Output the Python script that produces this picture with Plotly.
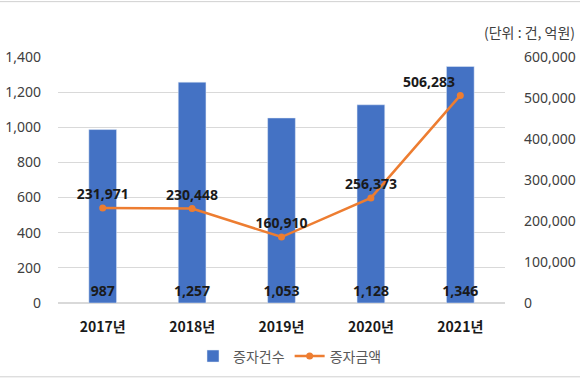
import plotly.graph_objects as go

years = ["2017년", "2018년", "2019년", "2020년", "2021년"]
counts = [987, 1257, 1053, 1128, 1346]
amounts = [231971, 230448, 160910, 256373, 506283]
amount_pos = ["top center", "top center", "top center", "top center", "top left"]

font_num = "Noto Sans, sans-serif"
font_kr = "Noto Sans CJK KR, sans-serif"

fig = go.Figure()
fig.add_trace(go.Bar(
    x=years, y=counts, name="증자건수",
    marker=dict(color="#4472C4"),
    text=[f"{v:,}" for v in counts], textposition="inside",
    insidetextanchor="start", textangle=0, constraintext="none",
    textfont=dict(color="#1a1a1a", size=14, family=font_num, weight="bold"),
    width=0.31,
))
fig.add_trace(go.Scatter(
    x=years, y=amounts, name="증자금액", yaxis="y2",
    mode="lines+markers+text",
    line=dict(color="#ED7D31", width=2.5),
    marker=dict(color="#ED7D31", size=7),
    text=[f"{v:,}" for v in amounts], textposition=amount_pos,
    textfont=dict(color="#1a1a1a", size=14, family=font_num, weight="bold"),
))

fig.update_layout(
    width=580, height=380,
    margin=dict(l=58, r=75, t=57, b=77, autoexpand=False),
    plot_bgcolor="white", paper_bgcolor="white",
    font=dict(family=font_kr, color="#404040", size=13),
    showlegend=True,
    legend=dict(orientation="h", x=0.5, xanchor="center", xref="container",
                y=0.062, yanchor="middle", yref="container",
                font=dict(size=14, color="#595959", family=font_kr)),
    xaxis=dict(showgrid=False, showline=False, ticks="", automargin=False,
               ticklabelstandoff=14,
               tickfont=dict(size=14, color="#1a1a1a", family=font_kr, weight="bold")),
    yaxis=dict(range=[0, 1400], dtick=200, tickformat=",", showgrid=True,
               gridcolor="#D9D9D9", gridwidth=1, zeroline=True, zerolinecolor="#D9D9D9",
               ticks="", ticklabelstandoff=16, automargin=False,
               tickfont=dict(size=14, family=font_num)),
    yaxis2=dict(range=[0, 600000], dtick=100000, tickformat=",", overlaying="y",
                side="right", showgrid=False, zeroline=False, ticks="",
                ticklabelstandoff=18, automargin=False,
                tickfont=dict(size=14, family=font_num)),
    annotations=[dict(text="(단위 : 건, 억원)", xref="paper", yref="paper",
                      x=1.162, y=1.103, xanchor="right", yanchor="middle",
                      showarrow=False, font=dict(size=14, color="#404040", family=font_kr))],
    shapes=[
        dict(type="line", xref="paper", yref="paper", x0=-0.2, x1=1.3, y0=1.225, y1=1.225,
             line=dict(color="#D0D0D0", width=1)),
        dict(type="line", xref="paper", yref="paper", x0=-0.2, x1=1.3, y0=-0.3, y1=-0.3,
             line=dict(color="#D0D0D0", width=1)),
    ],
)

fig.write_html("out.html", config={"displayModeBar": False},
               post_script="document.body.style.margin='0';document.body.style.padding='0';")
